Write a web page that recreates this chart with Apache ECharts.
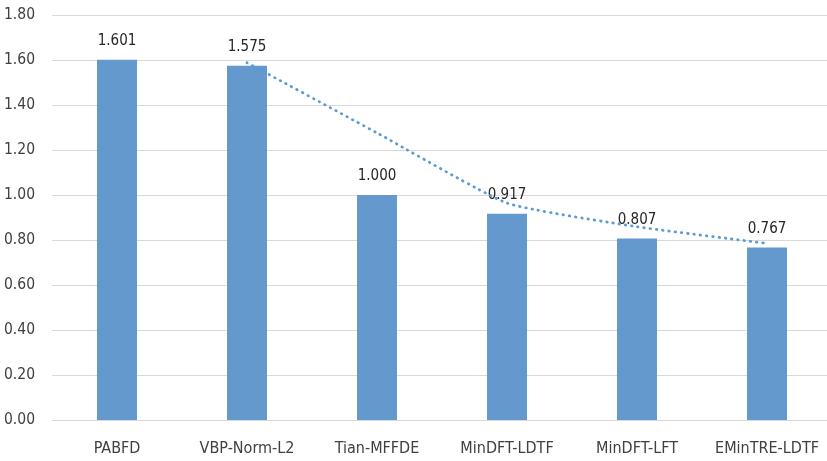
<!DOCTYPE html>
<html>
<head>
<meta charset="utf-8">
<script src="https://cdn.jsdelivr.net/npm/echarts@6/dist/echarts.min.js"></script>
<style>
  html, body { margin: 0; padding: 0; background: #fff; overflow: hidden; }
  #chart { width: 832px; height: 461px; }
</style>
</head>
<body>
<div id="chart"></div>
<script>
// Method names along the x axis
const categories = ['PABFD', 'VBP-Norm-L2', 'Tian-MFFDE', 'MinDFT-LDTF', 'MinDFT-LFT', 'EMinTRE-LDTF'];
// Bar heights (labelled values)
const barValues = [1.601, 1.575, 1.000, 0.917, 0.807, 0.767];
// Dotted trend curve, starting at the second method
const trendValues = [null, 1.588, 1.276, 0.964, 0.859, 0.785];

const FONT = '"Liberation Sans Narrow", "DejaVu Sans Condensed", sans-serif';
const TEXT = '#404040';

const chart = echarts.init(document.getElementById('chart'), null, { renderer: 'canvas' });
chart.setOption({
  animation: false,
  backgroundColor: '#ffffff',
  grid: { left: 52, right: 0, top: 15, bottom: 41, containLabel: false },
  xAxis: {
    type: 'category',
    data: categories,
    boundaryGap: true,
    axisLine: { show: true, lineStyle: { color: '#d9d9d9', width: 1 } },
    axisTick: { show: false },
    axisLabel: { color: TEXT, fontFamily: FONT, fontSize: 16, margin: 21, interval: 0 }
  },
  yAxis: {
    type: 'value',
    min: 0,
    max: 1.8,
    interval: 0.2,
    axisLine: { show: false },
    axisTick: { show: false },
    splitLine: { lineStyle: { color: '#d9d9d9', width: 1 } },
    axisLabel: {
      color: TEXT, fontFamily: FONT, fontSize: 15.5, margin: 17,
      formatter: v => v.toFixed(2)
    }
  },
  series: [
    {
      type: 'bar',
      data: barValues,
      barWidth: 40,
      itemStyle: { color: '#6399cd' },
      label: {
        show: true,
        position: 'top',
        distance: 11,
        color: '#262626',
        fontFamily: FONT,
        fontSize: 15,
        formatter: p => p.value.toFixed(3)
      },
      z: 2
    },
    {
      type: 'line',
      data: trendValues,
      smooth: 0.15,
      symbol: 'none',
      connectNulls: false,
      lineStyle: { color: '#5b9bd5', width: 2.8, type: [0.5, 5.8], cap: 'round' },
      z: 3
    }
  ]
});
</script>
</body>
</html>
